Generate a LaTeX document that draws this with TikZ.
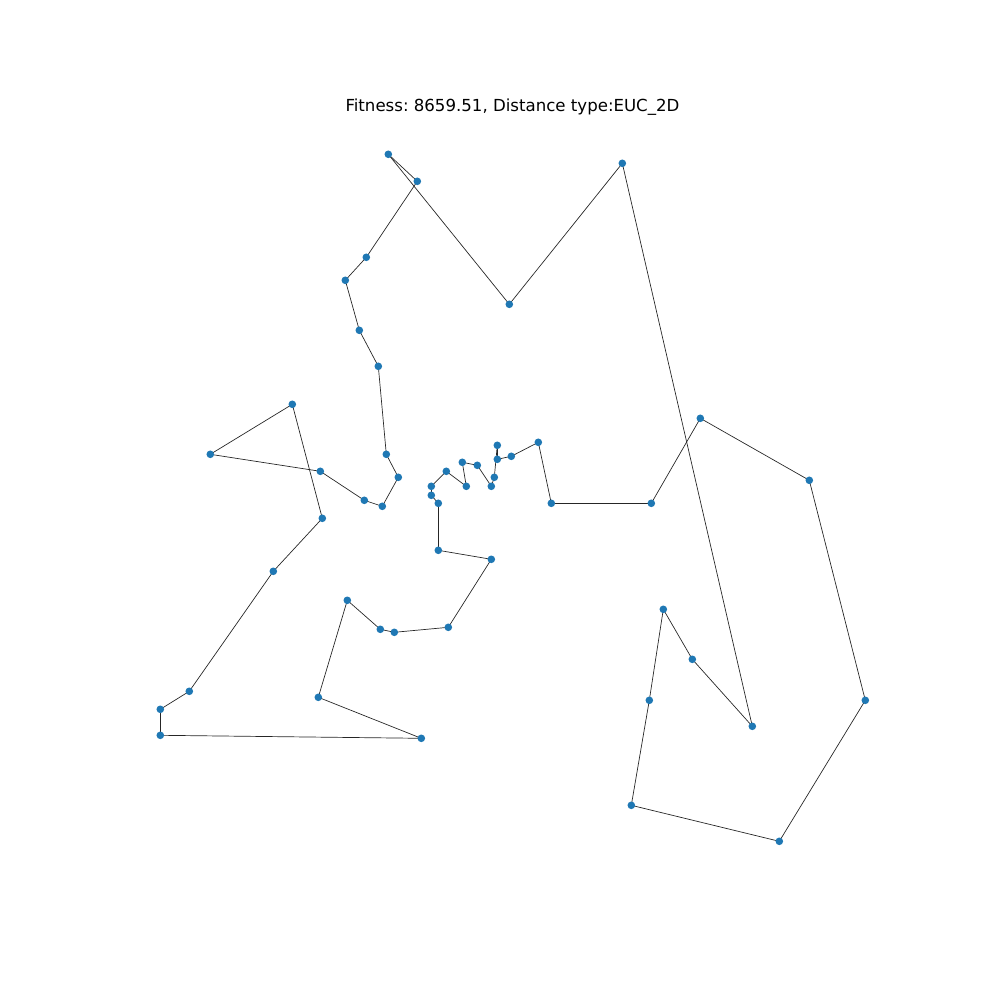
\documentclass[tikz,border=0pt]{standalone}
\usepackage{fontspec}
\setmainfont{DejaVu Sans}
\usetikzlibrary{backgrounds}
\frenchspacing
\tikzset{
  dot/.style={circle, fill=dotblue, draw=none, inner sep=0pt, minimum size=5.5pt},
  edge/.style={draw=black!85, line width=0.5pt},
  titletext/.style={font=\fontsize{12}{14}\selectfont, anchor=base, inner sep=0pt}
}
\definecolor{dotblue}{HTML}{1F78B4}
\begin{document}
\begin{tikzpicture}[x=0.0254cm, y=-0.0254cm]
\useasboundingbox (0,0) rectangle (1000,1000);
\node[titletext] (title) at (512.5,112) {Fitness: 8659.51, Distance type:EUC\_2D};
\foreach \i/\x/\y in {
1/388.3/154.3, 2/417.3/181.3, 3/366.3/257.3, 4/345.3/280.3, 5/359.3/330.3, 6/378.3/366.3,
7/386.3/454.3, 8/398.3/477.3, 9/382.3/506.3, 10/364.3/500.3, 11/320.3/471.3, 12/210.3/454.3,
13/292.3/404.3, 14/322.3/518.3, 15/273.3/571.3, 16/189.3/691.3, 17/160.3/709.3, 18/160.3/735.3,
19/421.3/738.3, 20/318.3/697.3, 21/347.3/600.3, 22/380.3/629.3, 23/394.3/632.3, 24/448.3/627.3,
25/491.3/559.3, 26/438.3/550.3, 27/438.3/503.3, 28/431.3/495.3, 29/431.3/486.3, 30/446.3/471.3,
31/466.3/486.3, 32/462.3/462.3, 33/477.3/465.3, 34/491.3/486.3, 35/494.3/477.3, 36/497.3/445.3,
37/497.3/459.3, 38/511.3/456.3, 39/538.3/442.3, 40/551.3/503.3, 41/651.3/503.3, 42/700.3/418.3,
43/809.3/480.3, 44/865.3/700.3, 45/779.3/841.3, 46/631.3/805.3, 47/649.3/700.3, 48/663.3/609.3,
49/692.3/659.3, 50/752.3/726.3, 51/622.3/163.3, 52/509.3/304.3}
  {\node[dot] (n\i) at (\x,\y) {};}
\begin{scope}[on background layer]
\foreach \a/\b in {1/2,2/3,3/4,4/5,5/6,6/7,7/8,8/9,9/10,10/11,11/12,12/13,
13/14,14/15,15/16,16/17,17/18,18/19,19/20,20/21,21/22,22/23,23/24,24/25,
25/26,26/27,27/28,28/29,29/30,30/31,31/32,32/33,33/34,34/35,35/36,36/37,
37/38,38/39,39/40,40/41,41/42,42/43,43/44,44/45,45/46,46/47,47/48,48/49,
49/50,50/51,51/52,52/1}
  {\draw[edge] (n\a.center) -- (n\b.center);}
\end{scope}
\end{tikzpicture}
\end{document}
